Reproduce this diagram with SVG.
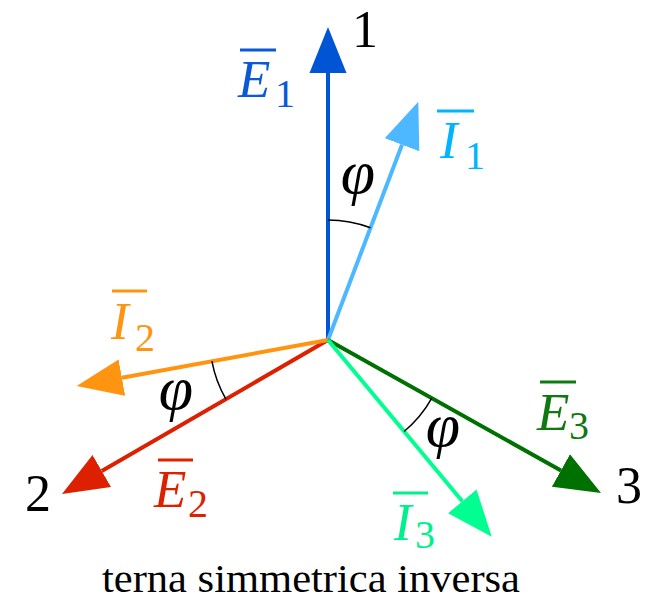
<svg xmlns="http://www.w3.org/2000/svg" width="653" height="601" viewBox="0 0 653 601">
<style>
text{font-family:"Liberation Serif","Times New Roman",serif}
.v{font-style:italic;font-size:53px}
.s{font-size:40px}
.n{font-size:52px;fill:#000}
.phi{font-style:italic;font-size:62px;fill:#000;text-anchor:middle}
.ov{stroke-width:3;fill:none}
.sh{stroke-width:4;fill:none}
.arc{stroke:#000;stroke-width:1.5;fill:none}
.cap{font-size:40px;fill:#000}
</style>
<defs>
<marker id="mE1" markerUnits="userSpaceOnUse" orient="auto" viewBox="0 -19 46 38" markerWidth="46" markerHeight="38" refX="0" refY="0"><path d="M0,-18.5L46,0L0,18.5z" fill="#0055d5"/></marker>
<marker id="mI1" markerUnits="userSpaceOnUse" orient="auto" viewBox="0 -19 46 38" markerWidth="46" markerHeight="38" refX="0" refY="0"><path d="M0,-18.5L46,0L0,18.5z" fill="#4db8ff"/></marker>
<marker id="mI2" markerUnits="userSpaceOnUse" orient="auto" viewBox="0 -19 46 38" markerWidth="46" markerHeight="38" refX="0" refY="0"><path d="M0,-18.5L46,0L0,18.5z" fill="#ff9410"/></marker>
<marker id="mE2" markerUnits="userSpaceOnUse" orient="auto" viewBox="0 -19 46 38" markerWidth="46" markerHeight="38" refX="0" refY="0"><path d="M0,-18.5L46,0L0,18.5z" fill="#dd2000"/></marker>
<marker id="mE3" markerUnits="userSpaceOnUse" orient="auto" viewBox="0 -19 46 38" markerWidth="46" markerHeight="38" refX="0" refY="0"><path d="M0,-18.5L46,0L0,18.5z" fill="#007000"/></marker>
<marker id="mI3" markerUnits="userSpaceOnUse" orient="auto" viewBox="0 -19 46 38" markerWidth="46" markerHeight="38" refX="0" refY="0"><path d="M0,-18.5L46,0L0,18.5z" fill="#00ff90"/></marker>
</defs>
<g id="connectors">
<line id="vE1" class="sh" x1="328" y1="340" x2="328" y2="73" stroke="#0055d5" marker-end="url(#mE1)"/>
<line id="vI1" class="sh" x1="328" y1="340" x2="402" y2="144.7" stroke="#4db8ff" marker-end="url(#mI1)"/>
<line id="vE2" class="sh" x1="328" y1="340" x2="101.8" y2="471" stroke="#dd2000" marker-end="url(#mE2)"/>
<line id="vI2" class="sh" x1="328" y1="340" x2="121.9" y2="377.7" stroke="#ff9410" marker-end="url(#mI2)"/>
<line id="vE3" class="sh" x1="328" y1="340" x2="560.9" y2="470.5" stroke="#007000" marker-end="url(#mE3)"/>
<line id="vI3" class="sh" x1="328" y1="340" x2="462.3" y2="501.3" stroke="#00ff90" marker-end="url(#mI3)"/>
<path class="arc" d="M328,220A120,120 0 0 1 370.5,227.8"/>
<path class="arc" d="M211.9,361.2A118,118 0 0 0 225.9,399.1"/>
<path class="arc" d="M431.8,398.2A119,119 0 0 1 404.1,431.5"/>
</g>
<g id="label-E1" fill="#0a5ad6">
<line class="ov" x1="240" y1="50" x2="276" y2="50" stroke="#0a5ad6"/>
<text class="v" x="238" y="96.5">E</text>
<text class="s" x="275" y="106.5">1</text>
</g>
<g id="label-I1" fill="#00b4ff">
<line class="ov" x1="437" y1="111" x2="474" y2="111" stroke="#00b4ff"/>
<text class="v" x="440" y="158">I</text>
<text class="s" x="465" y="168.5">1</text>
</g>
<g id="label-I2" fill="#ff9410">
<line class="ov" x1="112" y1="291" x2="147" y2="291" stroke="#ff9410"/>
<text class="v" x="111" y="339">I</text>
<text class="s" x="135" y="350.5">2</text>
</g>
<g id="label-E2" fill="#dd2000">
<line class="ov" x1="158" y1="460" x2="193" y2="460" stroke="#dd2000"/>
<text class="v" x="154" y="506.5">E</text>
<text class="s" x="188" y="516.5">2</text>
</g>
<g id="label-E3" fill="#107810">
<line class="ov" x1="540" y1="382" x2="576" y2="382" stroke="#107810"/>
<text class="v" x="537" y="429.5">E</text>
<text class="s" x="569" y="438.5">3</text>
</g>
<g id="label-I3" fill="#00f08c">
<line class="ov" x1="393" y1="493" x2="428" y2="493" stroke="#00f08c"/>
<text class="v" x="394" y="540">I</text>
<text class="s" x="415" y="547.5">3</text>
</g>
<g id="phase-labels">
<text class="n" x="352" y="46.5">1</text>
<text class="n" x="25" y="511">2</text>
<text class="n" x="616" y="503">3</text>
</g>
<g id="angles">
<text class="phi" x="358" y="193">φ</text>
<text class="phi" x="176" y="409">φ</text>
<text class="phi" x="443" y="446">φ</text>
</g>
<text id="caption" class="cap" x="102" y="592" textLength="418" lengthAdjust="spacingAndGlyphs">terna simmetrica inversa</text>
</svg>
